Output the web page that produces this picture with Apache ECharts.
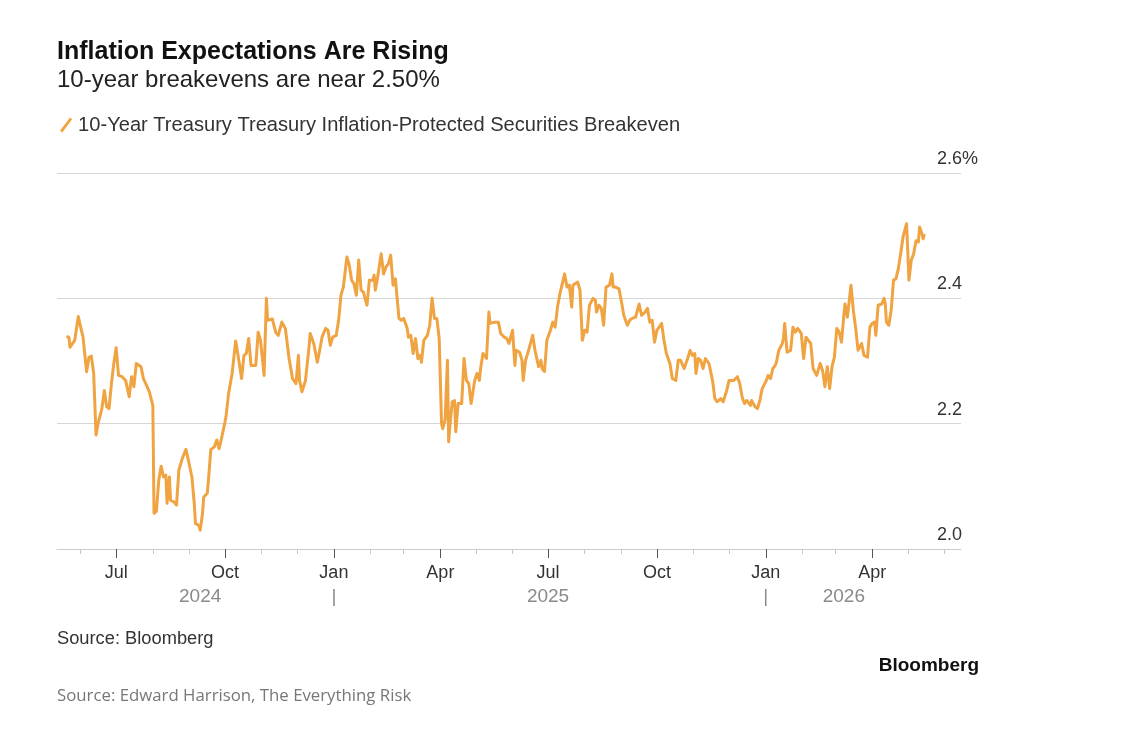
<!DOCTYPE html>
<html>
<head>
<meta charset="utf-8">
<script src="https://cdn.jsdelivr.net/npm/echarts@6/dist/echarts.min.js"></script>
<style>
html, body { margin: 0; padding: 0; background: #fff; }
#chart { width: 1122px; height: 750px; }
</style>
</head>
<body>
<div id="chart"></div>
<script>
// 10-year TIPS breakeven
var dates = [
  '2024-05-20','2024-05-22','2024-05-23','2024-05-27','2024-05-30','2024-06-01','2024-06-03','2024-06-06','2024-06-08','2024-06-10',
  '2024-06-12','2024-06-14','2024-06-16','2024-06-18','2024-06-19','2024-06-21','2024-06-23','2024-06-25','2024-06-27','2024-06-29',
  '2024-07-01','2024-07-03','2024-07-06','2024-07-09','2024-07-12','2024-07-14','2024-07-16','2024-07-18','2024-07-22','2024-07-24',
  '2024-07-26','2024-07-29','2024-08-01','2024-08-02','2024-08-04','2024-08-06','2024-08-08','2024-08-10','2024-08-12','2024-08-13',
  '2024-08-15','2024-08-16','2024-08-19','2024-08-21','2024-08-23','2024-08-26','2024-08-29','2024-08-31','2024-09-03','2024-09-05',
  '2024-09-06','2024-09-09','2024-09-10','2024-09-12','2024-09-13','2024-09-16','2024-09-17','2024-09-19','2024-09-22','2024-09-24',
  '2024-09-26','2024-09-28','2024-10-01','2024-10-02','2024-10-04','2024-10-07','2024-10-10','2024-10-12','2024-10-15','2024-10-17',
  '2024-10-19','2024-10-21','2024-10-23','2024-10-27','2024-10-29','2024-10-31','2024-11-03','2024-11-05','2024-11-06','2024-11-10',
  '2024-11-13','2024-11-15','2024-11-18','2024-11-21','2024-11-24','2024-11-27','2024-11-30','2024-12-02','2024-12-03','2024-12-05',
  '2024-12-08','2024-12-11','2024-12-12','2024-12-15','2024-12-18','2024-12-20','2024-12-22','2024-12-25','2024-12-27','2024-12-29',
  '2024-12-31','2025-01-03','2025-01-05','2025-01-07','2025-01-09','2025-01-11','2025-01-12','2025-01-14','2025-01-16','2025-01-18',
  '2025-01-20','2025-01-22','2025-01-24','2025-01-26','2025-01-27','2025-01-29','2025-01-31','2025-02-03','2025-02-04','2025-02-05',
  '2025-02-07','2025-02-10','2025-02-12','2025-02-14','2025-02-16','2025-02-18','2025-02-20','2025-02-22','2025-02-25','2025-02-27',
  '2025-03-01','2025-03-04','2025-03-05','2025-03-07','2025-03-09','2025-03-11','2025-03-13','2025-03-15','2025-03-16','2025-03-18',
  '2025-03-21','2025-03-23','2025-03-25','2025-03-27','2025-03-29','2025-03-31','2025-04-02','2025-04-03','2025-04-05','2025-04-07',
  '2025-04-08','2025-04-09','2025-04-11','2025-04-13','2025-04-14','2025-04-16','2025-04-19','2025-04-21','2025-04-23','2025-04-25',
  '2025-04-27','2025-04-30','2025-05-02','2025-05-04','2025-05-05','2025-05-07','2025-05-10','2025-05-12','2025-05-13','2025-05-17',
  '2025-05-20','2025-05-22','2025-05-25','2025-05-27','2025-05-29','2025-06-01','2025-06-03','2025-06-04','2025-06-07','2025-06-09',
  '2025-06-10','2025-06-12','2025-06-15','2025-06-18','2025-06-20','2025-06-23','2025-06-25','2025-06-26','2025-06-28','2025-06-30',
  '2025-07-03','2025-07-05','2025-07-07','2025-07-09','2025-07-11','2025-07-15','2025-07-17','2025-07-19','2025-07-21','2025-07-22',
  '2025-07-26','2025-07-28','2025-07-30','2025-08-01','2025-08-03','2025-08-05','2025-08-08','2025-08-10','2025-08-11','2025-08-13',
  '2025-08-15','2025-08-17','2025-08-19','2025-08-22','2025-08-24','2025-08-25','2025-08-27','2025-08-30','2025-09-01','2025-09-03',
  '2025-09-06','2025-09-08','2025-09-10','2025-09-13','2025-09-16','2025-09-18','2025-09-21','2025-09-23','2025-09-25','2025-09-27',
  '2025-09-29','2025-10-01','2025-10-05','2025-10-07','2025-10-09','2025-10-12','2025-10-14','2025-10-17','2025-10-19','2025-10-21',
  '2025-10-24','2025-10-27','2025-10-29','2025-10-31','2025-11-02','2025-11-03','2025-11-05','2025-11-07','2025-11-09','2025-11-11',
  '2025-11-14','2025-11-17','2025-11-19','2025-11-21','2025-11-24','2025-11-26','2025-11-29','2025-12-01','2025-12-05','2025-12-08',
  '2025-12-10','2025-12-12','2025-12-14','2025-12-16','2025-12-19','2025-12-20','2025-12-23','2025-12-25','2025-12-27','2025-12-29',
  '2026-01-01','2026-01-03','2026-01-05','2026-01-07','2026-01-09','2026-01-10','2026-01-12','2026-01-15','2026-01-16','2026-01-17',
  '2026-01-19','2026-01-22','2026-01-24','2026-01-26','2026-01-28','2026-01-31','2026-02-02','2026-02-04','2026-02-06','2026-02-08',
  '2026-02-10','2026-02-13','2026-02-16','2026-02-18','2026-02-20','2026-02-22','2026-02-24','2026-02-26','2026-02-28','2026-03-02',
  '2026-03-04','2026-03-06','2026-03-08','2026-03-09','2026-03-11','2026-03-14','2026-03-16','2026-03-18','2026-03-20','2026-03-23',
  '2026-03-25','2026-03-28','2026-03-30','2026-04-01','2026-04-03','2026-04-04','2026-04-06','2026-04-09','2026-04-11','2026-04-12',
  '2026-04-13','2026-04-15','2026-04-17','2026-04-19','2026-04-21','2026-04-23','2026-04-25','2026-04-27','2026-04-30','2026-05-01',
  '2026-05-02','2026-05-04','2026-05-06','2026-05-07','2026-05-08','2026-05-10','2026-05-11','2026-05-13','2026-05-14','2026-05-15'
];
var breakeven = [
  2.339,2.338,2.322,2.333,2.371,2.354,2.338,2.283,2.306,2.308,
  2.280,2.182,2.203,2.217,2.225,2.253,2.227,2.224,2.264,2.296,
  2.321,2.277,2.275,2.269,2.243,2.275,2.259,2.296,2.291,2.272,
  2.264,2.251,2.229,2.057,2.060,2.110,2.132,2.115,2.118,2.073,
  2.115,2.078,2.075,2.070,2.126,2.145,2.159,2.142,2.115,2.073,
  2.041,2.037,2.030,2.057,2.083,2.089,2.110,2.159,2.163,2.174,
  2.160,2.176,2.203,2.214,2.248,2.280,2.332,2.309,2.272,2.309,
  2.312,2.336,2.293,2.293,2.346,2.333,2.277,2.400,2.365,2.367,
  2.345,2.341,2.362,2.352,2.306,2.272,2.264,2.309,2.269,2.251,
  2.269,2.322,2.344,2.328,2.298,2.317,2.338,2.352,2.349,2.325,
  2.338,2.341,2.365,2.405,2.418,2.450,2.466,2.453,2.429,2.423,
  2.405,2.461,2.413,2.410,2.402,2.389,2.429,2.429,2.437,2.413,
  2.434,2.471,2.439,2.450,2.455,2.469,2.421,2.431,2.368,2.365,
  2.368,2.352,2.338,2.341,2.312,2.336,2.304,2.309,2.298,2.333,
  2.341,2.357,2.400,2.368,2.368,2.336,2.200,2.192,2.206,2.301,
  2.171,2.195,2.235,2.237,2.187,2.232,2.232,2.304,2.269,2.264,
  2.232,2.269,2.280,2.269,2.288,2.312,2.304,2.378,2.360,2.362,
  2.362,2.344,2.338,2.336,2.328,2.349,2.293,2.317,2.314,2.301,
  2.269,2.301,2.320,2.341,2.317,2.291,2.301,2.288,2.283,2.333,
  2.349,2.362,2.354,2.386,2.407,2.439,2.418,2.421,2.386,2.421,
  2.426,2.413,2.333,2.349,2.346,2.389,2.400,2.397,2.378,2.389,
  2.384,2.357,2.418,2.421,2.439,2.418,2.418,2.415,2.395,2.373,
  2.357,2.365,2.368,2.370,2.391,2.373,2.378,2.384,2.362,2.365,
  2.330,2.349,2.360,2.333,2.312,2.296,2.272,2.269,2.301,2.301,
  2.288,2.304,2.317,2.309,2.312,2.280,2.304,2.301,2.288,2.304,
  2.296,2.269,2.240,2.235,2.240,2.235,2.253,2.269,2.269,2.275,
  2.264,2.243,2.232,2.237,2.229,2.237,2.227,2.224,2.237,2.256,
  2.267,2.277,2.272,2.288,2.293,2.298,2.317,2.328,2.338,2.360,
  2.314,2.317,2.354,2.346,2.352,2.344,2.304,2.338,2.333,2.328,
  2.288,2.277,2.296,2.285,2.259,2.291,2.256,2.291,2.306,2.352,
  2.346,2.330,2.373,2.391,2.370,2.421,2.381,2.352,2.317,2.328,
  2.309,2.306,2.354,2.360,2.362,2.341,2.389,2.391,2.400,2.391,
  2.362,2.357,2.381,2.429,2.431,2.447,2.471,2.498,2.519,2.476,
  2.429,2.461,2.471,2.482,2.492,2.490,2.514,2.503,2.495,2.503
];

var quarterTicks = ['2024-07-01','2024-10-01','2025-01-01','2025-04-01','2025-07-01','2025-10-01','2026-01-01','2026-04-01'];
var quarterLabels = ['Jul','Oct','Jan','Apr','Jul','Oct','Jan','Apr'];
var monthTicks = ['2024-06-01','2024-08-01','2024-09-01','2024-11-01','2024-12-01','2025-02-01','2025-03-01','2025-05-01',
  '2025-06-01','2025-08-01','2025-09-01','2025-11-01','2025-12-01','2026-02-01','2026-03-01','2026-05-01','2026-06-01'];
var yearTicks = ['2024-09-10','2025-01-01','2025-07-01','2026-01-01','2026-03-08'];
var yearLabels = ['2024','|','2025','|','2026'];

var xMin = '2024-05-12', xMax = '2026-06-15';

function ts(s) {
  var p = s.split('-');
  return Date.UTC(+p[0], +p[1] - 1, +p[2]);
}

function lookup(list, labels) {
  var m = {};
  list.forEach(function (d, i) { m[ts(d)] = labels[i]; });
  return function (v) { return m[v] !== undefined ? m[v] : ''; };
}

var lineData = dates.map(function (d, i) { return [ts(d), breakeven[i]]; });
var FONT = '"Liberation Sans", Arial, sans-serif';
var ORANGE = '#F0A341';

var chart = echarts.init(document.getElementById('chart'));

// date axes are plain value axes on UTC timestamps, ticks placed by hand-picked dates
function dateAxis(extra) {
  var ax = {
    type: 'value',
    gridIndex: 0,
    position: 'bottom',
    min: ts(xMin),
    max: ts(xMax),
    scale: true,
    splitLine: { show: false }
  };
  for (var k in extra) ax[k] = extra[k];
  return ax;
}

var option = {
  backgroundColor: '#fff',
  animation: false,
  title: [
    {
      text: 'Inflation Expectations Are Rising',
      left: 57, top: 40, padding: 0,
      textStyle: { fontFamily: FONT, fontWeight: 'bold', fontSize: 25, color: '#111' }
    },
    {
      text: '10-year breakevens are near 2.50%',
      left: 57, top: 68, padding: 0,
      textStyle: { fontFamily: FONT, fontWeight: 'normal', fontSize: 24, color: '#222' }
    },
    {
      text: 'Source: Bloomberg',
      left: 57, top: 630, padding: 0,
      textStyle: { fontFamily: FONT, fontWeight: 'normal', fontSize: 18.3, color: '#333' }
    },
    {
      text: 'Bloomberg',
      right: 143, top: 656, padding: 0,
      textStyle: { fontFamily: FONT, fontWeight: 'bold', fontSize: 19, color: '#111' }
    },
    {
      text: 'Source: Edward Harrison, The Everything Risk',
      left: 57, top: 688, padding: 0,
      textStyle: { fontFamily: '"Open Sans", ' + FONT, fontWeight: 'normal', fontSize: 16.8, color: '#777' }
    }
  ],
  legend: {
    left: 60, top: 115, padding: 0,
    itemWidth: 14, itemHeight: 15,
    icon: 'path://M0,13 L9,1 L11,2.5 L2,14.5 Z',
    textStyle: { fontFamily: FONT, fontSize: 20.1, color: '#333' },
    data: ['10-Year Treasury Treasury Inflation-Protected Securities Breakeven']
  },
  grid: { left: 57, right: 161, top: 173, bottom: 201, containLabel: false },
  xAxis: [
    dateAxis({
      axisLine: { show: true, lineStyle: { color: '#cccccc', width: 1 } },
      axisTick: { show: true, length: 5, lineStyle: { color: '#c8c8c8' }, customValues: monthTicks.map(ts) },
      axisLabel: { show: false }
    }),
    dateAxis({
      axisLine: { show: false },
      axisTick: { show: true, length: 9, lineStyle: { color: '#555' }, customValues: quarterTicks.map(ts) },
      axisLabel: {
        show: true, margin: 15, customValues: quarterTicks.map(ts),
        formatter: lookup(quarterTicks, quarterLabels),
        fontFamily: FONT, fontSize: 18, color: '#333'
      }
    }),
    dateAxis({
      axisLine: { show: false },
      axisTick: { show: false },
      axisLabel: {
        show: true, margin: 38, customValues: yearTicks.map(ts),
        formatter: lookup(yearTicks, yearLabels),
        fontFamily: FONT, fontSize: 19, color: '#8a8a8a'
      }
    })
  ],
  yAxis: {
    type: 'value',
    position: 'right',
    min: 2.0, max: 2.6, interval: 0.2,
    axisLine: { show: false },
    axisTick: { show: false },
    splitLine: { show: true, lineStyle: { color: '#d6d6d6', width: 1 } },
    axisLabel: {
      show: true, inside: false, margin: -24, align: 'left', verticalAlign: 'bottom',
      padding: [0, 0, 5, 0],
      formatter: function (v) { return v >= 2.6 ? v.toFixed(1) + '%' : v.toFixed(1); },
      fontFamily: FONT, fontSize: 18, color: '#333'
    }
  },
  series: [{
    name: '10-Year Treasury Treasury Inflation-Protected Securities Breakeven',
    type: 'line',
    xAxisIndex: 0,
    showSymbol: false,
    symbol: 'none',
    data: lineData,
    lineStyle: { color: ORANGE, width: 3, join: 'round' },
    itemStyle: { color: ORANGE }
  }]
};

chart.setOption(option);
</script>
</body>
</html>
